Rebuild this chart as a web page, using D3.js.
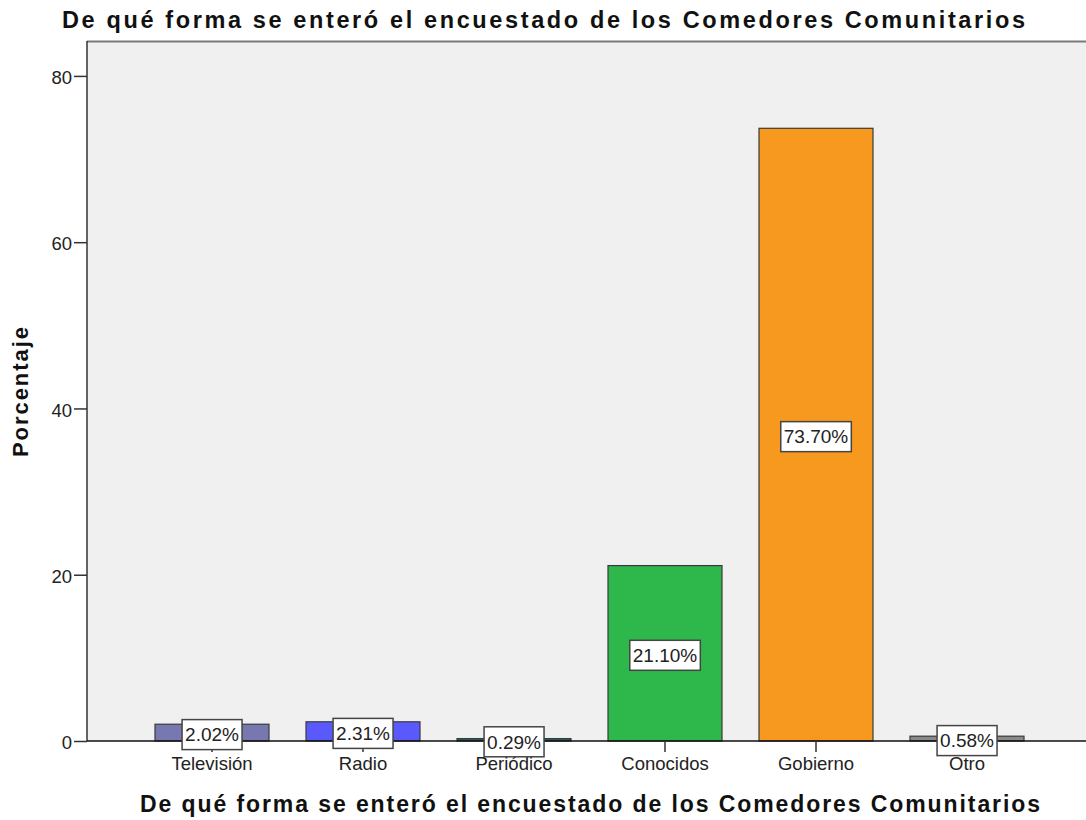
<!DOCTYPE html>
<html>
<head>
<meta charset="utf-8">
<script src="https://cdn.jsdelivr.net/npm/d3@7"></script>
<style>
body { margin: 0; background: #fff; }
svg { display: block; font-family: "Liberation Sans", Arial, sans-serif; }
</style>
</head>
<body>
<svg id="chart" width="1086" height="820"></svg>
<script>
const categories = ["Televisión", "Radio", "Periódico", "Conocidos", "Gobierno", "Otro"];
const values = [2.02, 2.31, 0.29, 21.10, 73.70, 0.58];
const colors = ["#7878b0", "#5a5afc", "#1e6464", "#2eb84b", "#f7981f", "#8a8a8a"];
const yTicks = [0, 20, 40, 60, 80];
const title = "De qué forma se enteró el encuestado de los Comedores Comunitarios";
const xTitle = "De qué forma se enteró el encuestado de los Comedores Comunitarios";
const yTitle = "Porcentaje";

const svg = d3.select("#chart");
const plot = { left: 87, top: 41, right: 1086, bottom: 741 };
const FONT = "Liberation Sans, Arial, sans-serif";

const y = d3.scaleLinear().domain([0, 84.2]).range([plot.bottom, plot.top]);
const x = d3.scaleBand().domain(categories).range([136.5, 1042.5]).paddingInner(0.245).paddingOuter(0.1225);

// plot background
svg.append("rect")
  .attr("x", plot.left).attr("y", plot.top)
  .attr("width", plot.right - plot.left).attr("height", plot.bottom - plot.top)
  .attr("fill", "#f0f0f0");
svg.append("line")
  .attr("x1", plot.left).attr("x2", plot.right)
  .attr("y1", plot.top + 0.5).attr("y2", plot.top + 0.5)
  .attr("stroke", "#7a7a7a").attr("stroke-width", 2);

// bars
svg.append("g").selectAll("rect").data(values).join("rect")
  .attr("x", (d, i) => x(categories[i]))
  .attr("y", d => y(d))
  .attr("width", x.bandwidth())
  .attr("height", d => plot.bottom - y(d))
  .attr("fill", (d, i) => colors[i])
  .attr("stroke", "#3a3a3a")
  .attr("stroke-width", 1.2);

// y axis
const yAxis = svg.append("g")
  .attr("transform", `translate(${plot.left},0)`)
  .call(d3.axisLeft(y).tickValues(yTicks).tickSize(13).tickPadding(2).tickFormat(d3.format("d")));
yAxis.select(".domain").attr("stroke", "#333").attr("stroke-width", 1.5)
  .attr("d", `M0,${plot.top}V${plot.bottom}`);
yAxis.selectAll(".tick line").attr("stroke", "#333").attr("stroke-width", 1.5);
yAxis.selectAll(".tick text").attr("font-size", 18.5).attr("fill", "#222")
  .attr("font-family", FONT).attr("dy", "0.42em");

// x axis
const xAxis = svg.append("g")
  .attr("transform", `translate(0,${plot.bottom})`)
  .call(d3.axisBottom(x).tickSize(11).tickPadding(5));
xAxis.select(".domain").attr("stroke", "#111").attr("stroke-width", 1.5)
  .attr("d", `M${plot.left},0H${plot.right}`);
xAxis.selectAll(".tick line").attr("stroke", "#333").attr("stroke-width", 1.5);
xAxis.selectAll(".tick text").attr("font-size", 18.5).attr("fill", "#222")
  .attr("font-family", FONT);

// value labels
const labels = svg.append("g").selectAll("g").data(values).join("g")
  .attr("transform", (d, i) => `translate(${x(categories[i]) + x.bandwidth() / 2},${(y(d) + plot.bottom) / 2 + 2})`);
labels.each(function(d) {
  const g = d3.select(this);
  const t = g.append("text")
    .attr("text-anchor", "middle")
    .attr("dy", "0.36em")
    .attr("font-size", 19)
    .attr("fill", "#222")
    .text(d3.format(".2f")(d) + "%");
  const bb = t.node().getBBox();
  g.insert("rect", "text")
    .attr("x", bb.x - 3).attr("y", -15)
    .attr("width", bb.width + 6).attr("height", 30)
    .attr("fill", "#fff").attr("stroke", "#444").attr("stroke-width", 1.5);
});

// titles
svg.append("text")
  .attr("x", 62).attr("y", 28)
  .attr("font-size", 23.5).attr("font-weight", "bold").attr("fill", "#111")
  .attr("textLength", 963).attr("lengthAdjust", "spacing")
  .text(title);
svg.append("text")
  .attr("x", 140).attr("y", 812)
  .attr("font-size", 23).attr("font-weight", "bold").attr("fill", "#111")
  .attr("textLength", 900).attr("lengthAdjust", "spacing")
  .text(xTitle);
svg.append("text")
  .attr("transform", "translate(28,457) rotate(-90)")
  .attr("font-size", 22).attr("font-weight", "bold").attr("fill", "#111")
  .attr("textLength", 130).attr("lengthAdjust", "spacing")
  .text(yTitle);
</script>
</body>
</html>
